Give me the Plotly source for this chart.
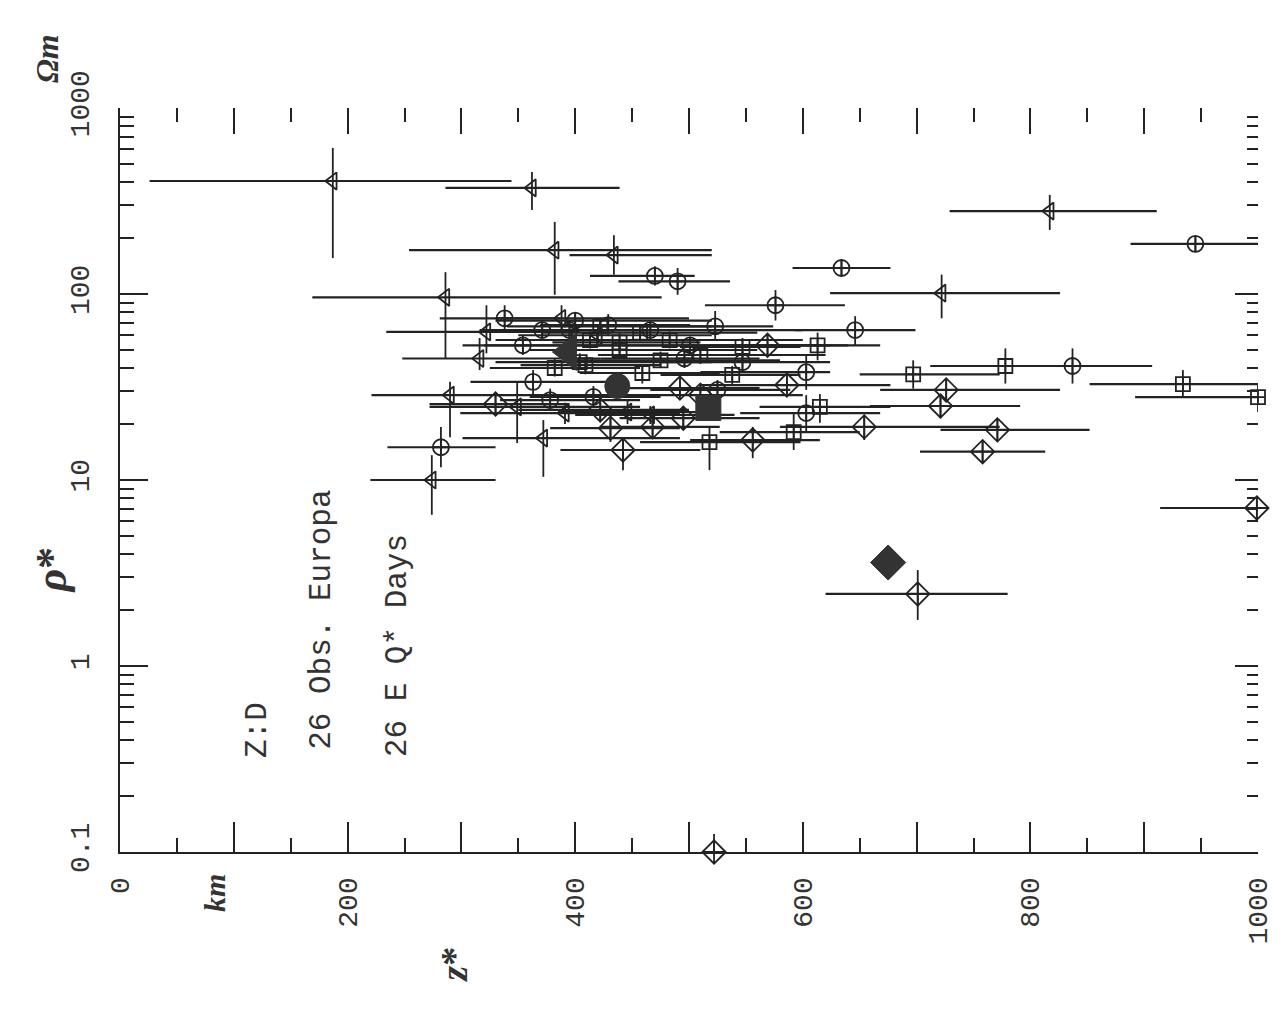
import plotly.graph_objects as go

# ---- data (z* in km, rho* in Ohm m) ----
tri_z   = [187, 362, 382, 434, 286, 817, 722, 388, 322, 316, 290, 349, 391, 372, 274, 446, 466, 397, 420]
tri_rho = [405, 372, 172, 162, 96, 279, 101, 74, 62.5, 45, 28.6, 24.7, 22.9, 16.8, 10, 23.2, 22.4, 53, 60]
tri_zlo = [26, 286, 254, 395, 169, 729, 624, 330, 234, 248, 221, 272, 299, 301, 220, 387, 400, 320, 350]
tri_zhi = [344, 439, 520, 520, 476, 911, 826, 500, 404, 422, 439, 457, 492, 492, 330, 510, 540, 560, 520]
tri_rlo = [156, 283, 99, 127, 45, 221, 74, 62, 48, 39, 17, 15.8, 20, 10.4, 6.5, 20, 20, 46, 54]
tri_rhi = [610, 453, 244, 207, 131, 341, 127, 87, 87, 58, 33.7, 33.2, 26, 21, 13.6, 27, 25, 62, 68]

cir_z   = [945, 634, 470, 490, 576, 338, 523, 646, 429, 395, 354, 496, 547, 603, 837, 363, 378, 603, 282, 525, 371, 416, 400, 466, 501]
cir_rho = [186, 138, 125, 117, 87, 74, 67, 64, 68, 64, 53, 45, 43, 38, 41, 33.7, 26.9, 22.9, 15, 30.5, 64, 28, 72, 64, 53]
cir_zlo = [888, 591, 413, 438, 514, 281, 457, 593, 369, 334, 301, 422, 475, 510, 751, 308, 334, 545, 235, 466, 316, 360, 330, 380, 420]
cir_zhi = [1000, 677, 505, 536, 637, 387, 574, 699, 501, 475, 422, 562, 624, 624, 907, 439, 457, 668, 330, 589, 439, 475, 520, 600, 640]
cir_rlo = [168, 125, 111, 99, 72, 62, 57, 53, 60, 56, 47, 40, 38, 30.5, 33, 29, 23.5, 18, 11.7, 27, 57, 24.5, 65, 58, 48]
cir_rhi = [205, 153, 141, 138, 105, 87, 81, 76, 78, 72, 60, 51, 49, 47, 51, 39, 31, 28.6, 19.3, 34.5, 72, 32, 80, 71, 59]

sq_z   = [613, 547, 778, 697, 934, 1000, 615, 592, 518, 538, 459, 382, 439, 409, 422, 457, 413, 483, 439, 510, 475, 404]
sq_rho = [53, 52, 41, 37, 32.8, 27.9, 24.7, 18.1, 16, 36.7, 37.6, 40, 55, 41.5, 67, 62, 56.6, 56.6, 50, 47, 44, 43]
sq_zlo = [545, 492, 712, 650, 852, 892, 562, 527, 457, 475, 404, 325, 380, 352, 340, 370, 330, 400, 360, 420, 390, 330]
sq_zhi = [668, 598, 905, 773, 1000, 1000, 677, 650, 598, 598, 527, 457, 510, 475, 520, 560, 500, 600, 560, 620, 580, 520]
sq_rlo = [44, 46, 33, 31, 28, 23.2, 20.3, 14.5, 11.3, 32, 33, 36, 49, 37, 61, 56, 51, 51, 45, 42, 40, 39]
sq_rhi = [62, 58, 51, 44, 39, 33, 29, 23.2, 19.3, 41, 42, 45, 62, 46, 74, 69, 63, 63, 56, 53, 49, 48]

dia_z   = [999, 586, 726, 721, 654, 771, 758, 556, 701, 522, 431, 442, 468, 495, 330, 492, 569, 510, 422]
dia_rho = [7.07, 32.4, 30.5, 25, 19.3, 18.6, 14.2, 16.4, 2.44, 0.1, 19, 14.5, 19.3, 21.5, 25.6, 31.2, 53, 28.6, 23.8]
dia_zlo = [914, 510, 668, 659, 580, 721, 703, 501, 620, 522, 378, 387, 422, 439, 272, 439, 518, 440, 350]
dia_zhi = [1000, 677, 826, 791, 773, 852, 813, 615, 780, 522, 492, 510, 527, 562, 395, 562, 624, 600, 500]
dia_rlo = [6.4, 28, 26.9, 21.5, 16.4, 16, 12.5, 13.1, 1.77, 0.1, 16, 11.3, 17, 19, 22.5, 28, 47, 25.5, 21]
dia_rhi = [7.8, 37, 34.6, 28.6, 22.4, 21.5, 16, 19.3, 3.28, 0.125, 22, 17, 22, 24.5, 29, 35, 60, 32, 27]

mean_symbols = ["triangle-left", "circle", "square", "diamond"]
mean_z   = [394, 437, 517, 675]
mean_rho = [48.8, 32, 24.4, 3.6]

x_major = list(range(0, 1001, 100))
x_labels = [str(v) if v % 200 == 0 else "" for v in x_major]
x_minor = list(range(50, 1000, 100))
y_major = [0.1, 1, 10, 100, 1000]
y_labels = ["0.1", "1", "10", "100", "1000"]
y_minor = [m * 10.0 ** e for e in range(-1, 3) for m in range(2, 10)]

INK = "#222222"

def series(z, rho, zlo, zhi, rlo, rhi, symbol, size):
    return go.Scatter(
        x=z, y=rho, mode="markers", cliponaxis=False, showlegend=False,
        marker=dict(symbol=symbol, size=size, color=INK, opacity=1,
                    line=dict(color=INK, width=1.8)),
        error_x=dict(type="data", symmetric=False,
                     array=[h - v for h, v in zip(zhi, z)],
                     arrayminus=[v - l for l, v in zip(zlo, z)],
                     color=INK, thickness=2.2, width=0),
        error_y=dict(type="data", symmetric=False,
                     array=[h - v for h, v in zip(rhi, rho)],
                     arrayminus=[v - l for l, v in zip(rlo, rho)],
                     color=INK, thickness=1.8, width=0),
    )

fig = go.Figure()
fig.add_trace(series(tri_z, tri_rho, tri_zlo, tri_zhi, tri_rlo, tri_rhi, "triangle-left-open", 15))
fig.add_trace(series(cir_z, cir_rho, cir_zlo, cir_zhi, cir_rlo, cir_rhi, "circle-cross-open", 16))
fig.add_trace(series(sq_z, sq_rho, sq_zlo, sq_zhi, sq_rlo, sq_rhi, "square-cross-open", 14))
fig.add_trace(series(dia_z, dia_rho, dia_zlo, dia_zhi, dia_rlo, dia_rhi, "diamond-cross-open", 18))

fig.add_trace(go.Scatter(
    x=mean_z, y=mean_rho, mode="markers", xaxis="x2", yaxis="y2", showlegend=False,
    cliponaxis=False,
    marker=dict(symbol=mean_symbols, size=[32, 25, 25, 27], color="#333333", opacity=1,
                line=dict(color="#333333", width=1)),
))

tickfont = dict(family="Liberation Mono", size=28, color="#333333")

fig.update_layout(
    width=1287, height=1011,
    margin=dict(l=120, r=29, t=108, b=159),
    plot_bgcolor="white", paper_bgcolor="white",
    showlegend=False,
    xaxis=dict(range=[0, 1000], showline=True, linecolor=INK, linewidth=2.2,
               ticks="inside", ticklen=30, tickwidth=1.8, tickcolor=INK,
               tickvals=x_major, ticktext=x_labels, tickangle=-90,
               tickfont=tickfont, ticklabelstandoff=12,
               showgrid=False, zeroline=False,
               minor=dict(ticks="inside", ticklen=14, tickwidth=1.8, tickcolor=INK,
                          tickvals=x_minor, showgrid=False)),
    yaxis=dict(type="log", range=[-1, 3], showline=True, linecolor=INK, linewidth=2.2,
               ticks="inside", ticklen=28, tickwidth=2, tickcolor=INK,
               tickvals=y_major, ticktext=y_labels, tickangle=-90,
               tickfont=tickfont, ticklabelstandoff=18,
               showgrid=False, zeroline=False,
               minor=dict(ticks="inside", ticklen=14, tickwidth=2, tickcolor=INK,
                          tickvals=y_minor, showgrid=False)),
    xaxis2=dict(range=[0, 1000], overlaying="x", side="top", anchor="y2",
                showline=False, ticks="inside", ticklen=26, tickwidth=2, tickcolor=INK,
                tickvals=x_major[1:-1], showticklabels=False,
                showgrid=False, zeroline=False,
                minor=dict(ticks="inside", ticklen=14, tickwidth=2, tickcolor=INK,
                           tickvals=x_minor, showgrid=False)),
    yaxis2=dict(type="log", range=[-1, 3], overlaying="y", side="right", anchor="x2",
                showline=False, ticks="inside", ticklen=23, tickwidth=2, tickcolor=INK,
                tickvals=y_major[1:], showticklabels=False,
                showgrid=False, zeroline=False,
                minor=dict(ticks="inside", ticklen=11, tickwidth=2, tickcolor=INK,
                           tickvals=y_minor, showgrid=False)),
)

serif = "Liberation Serif"
ann = [
    dict(text="<b><i>ρ</i>*</b>", x=-0.061, y=0.379, font=dict(family=serif, size=44, color="#333")),
    dict(text="<b><i>Ωm</i></b>", x=-0.064, y=1.066, font=dict(family=serif, size=32, color="#333")),
    dict(text="<b><i>km</i></b>", x=0.0835, y=-0.055, font=dict(family=serif, size=30, color="#333")),
    dict(text="<b><i>z</i>*</b>", x=0.294, y=-0.152, font=dict(family=serif, size=38, color="#333")),
]
for a in ann:
    fig.add_annotation(xref="paper", yref="paper", showarrow=False, textangle=-90,
                       xanchor="center", yanchor="middle", **a)

mono = dict(family="Liberation Mono", size=31, color="#333333")
for txt, xp, yp in [("Z:D", 0.1213, 0.164),
                    ("26 Obs. Europa", 0.1775, 0.312),
                    ("26 E Q* Days", 0.2434, 0.278)]:
    fig.add_annotation(xref="paper", yref="paper", x=xp, y=yp, text=txt,
                       showarrow=False, textangle=-90, font=mono,
                       xanchor="center", yanchor="middle")

fig.write_html("out.html")
